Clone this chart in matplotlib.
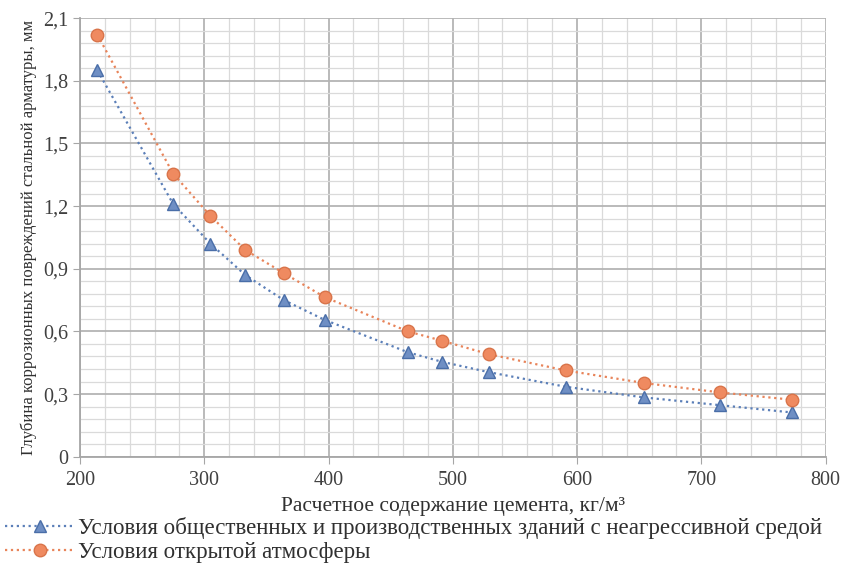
import numpy as np
import matplotlib.pyplot as plt
from matplotlib.ticker import MultipleLocator, FuncFormatter

plt.rcParams['font.family'] = ['Liberation Serif', 'DejaVu Serif']

# Cement content, kg/m3
cement = [214, 275, 305, 333, 364, 397, 464, 491, 529, 591, 654, 715, 773]
# Corrosion depth, mm
depth_indoor = [1.85, 1.21, 1.02, 0.87, 0.75, 0.655, 0.50, 0.455, 0.405, 0.335, 0.284, 0.247, 0.212]
depth_outdoor = [2.02, 1.355, 1.153, 0.99, 0.879, 0.764, 0.60, 0.556, 0.491, 0.413, 0.353, 0.308, 0.273]

label_indoor = 'Условия общественных и производственных зданий с неагрессивной средой'
label_outdoor = 'Условия открытой атмосферы'

fig = plt.figure(figsize=(8.6, 5.66), dpi=100)
ax = fig.add_axes([0.093, 0.193, 0.867, 0.775])

ax.plot(cement, depth_indoor, linestyle=':', linewidth=1.6, color='#5b7fb8',
        marker='^', markersize=9, markerfacecolor='#6f8fc4', markeredgecolor='#4a6ea8',
        label=label_indoor, zorder=3)
ax.plot(cement, depth_outdoor, linestyle=':', linewidth=1.6, color='#e8845a',
        marker='o', markersize=9, markerfacecolor='#ef8a60', markeredgecolor='#d9744a',
        label=label_outdoor, zorder=3)

ax.set_xlim(200, 800)
ax.set_ylim(0, 2.1)
ax.xaxis.set_major_locator(MultipleLocator(100))
ax.xaxis.set_minor_locator(MultipleLocator(20))
ax.yaxis.set_major_locator(MultipleLocator(0.3))
ax.yaxis.set_minor_locator(MultipleLocator(0.06))
ax.yaxis.set_major_formatter(FuncFormatter(lambda v, p: '0' if abs(v) < 1e-9 else f'{v:.1f}'.replace('.', ',')))

ax.grid(which='major', color='#b4b4b4', linewidth=1.3)
ax.grid(which='minor', color='#dadada', linewidth=0.9)
ax.set_axisbelow(True)

for s in ['top', 'right']:
    ax.spines[s].set_visible(False)
for s in ['left', 'bottom']:
    ax.spines[s].set_color('#a6a6a6')
    ax.spines[s].set_linewidth(1.3)
ax.tick_params(which='major', length=5, color='#a6a6a6', labelsize=14.5, labelcolor='#404040')
ax.tick_params(axis='x', pad=5)
ax.tick_params(which='minor', length=0)

ax.set_xlabel('Расчетное содержание цемента, кг/м³', fontsize=15.5, color='#303030', labelpad=5)
ax.set_ylabel('Глубина коррозионных повреждений стальной арматуры, мм', fontsize=12,
              color='#303030', labelpad=4)

fig.legend(loc='upper left', bbox_to_anchor=(0.006, 0.086), frameon=False, fontsize=16.5,
           handlelength=3.0, handletextpad=0.2, labelspacing=0.1, borderaxespad=0,
           borderpad=0, labelcolor='#303030')

fig.savefig('out.png', dpi=100)
